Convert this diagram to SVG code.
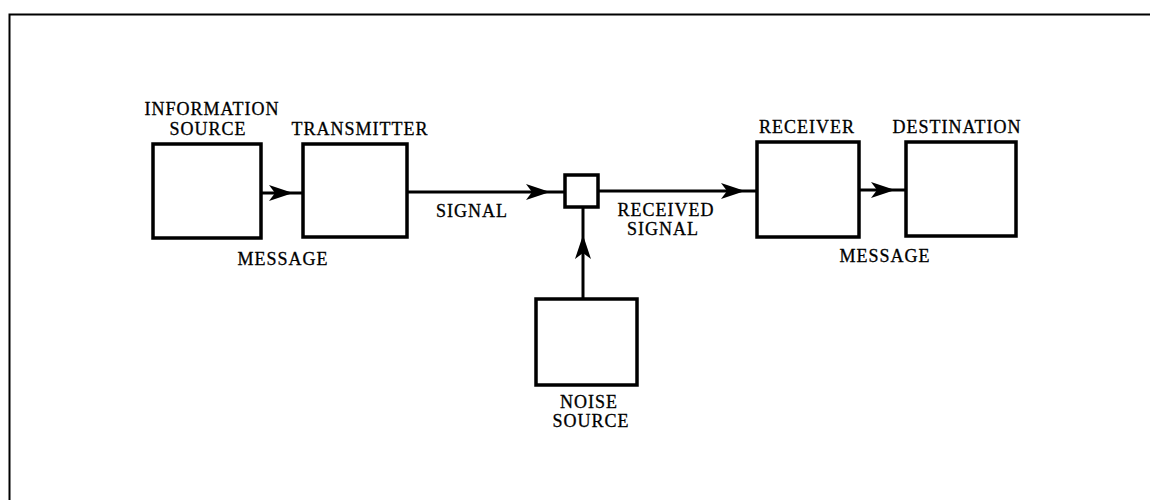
<svg xmlns="http://www.w3.org/2000/svg" width="1150" height="500" viewBox="0 0 1150 500">
<style>
  .box { fill: #fff; stroke: #000; stroke-width: 3.5; }
  .wire { fill: none; stroke: #000; stroke-width: 3; marker-mid: url(#ah); }
  .lbl { font-family: "Liberation Serif", "Times New Roman", serif; font-size: 18px; fill: #000; stroke: #000; stroke-width: 0.3; text-anchor: middle; letter-spacing: 1px; }
  .frame { fill: none; stroke: #000; stroke-width: 2; }
</style>
<defs>
  <marker id="ah" markerUnits="userSpaceOnUse" markerWidth="30" markerHeight="20" refX="0" refY="0" viewBox="-26 -10 30 20" orient="auto" overflow="visible">
    <path d="M0,0 L-24,-8 L-18,0 L-24,8 Z" fill="#000"/>
  </marker>
</defs>
<rect width="1150" height="500" fill="#fff"/>
<path class="frame" d="M9.5,500 L9.5,14.5 L1150,14.5"/>

<g id="connectors">
  <path class="wire" d="M261,193 L293,193 L303,193"/>
  <path class="wire" d="M407,192 L550,192 L565,192"/>
  <path class="wire" d="M598,191 L745,191 L757,191"/>
  <path class="wire" d="M859,190 L895,190 L906,190"/>
  <path class="wire" d="M583,299 L583,235 L583,207"/>
</g>

<g id="information-source">
  <rect class="box" x="153" y="144" width="108" height="94"/>
  <text class="lbl" x="212" y="115">INFORMATION</text>
  <text class="lbl" x="208" y="135">SOURCE</text>
</g>
<g id="transmitter">
  <rect class="box" x="303" y="144" width="104" height="93"/>
  <text class="lbl" x="360" y="135">TRANSMITTER</text>
</g>
<g id="message-label-1">
  <text class="lbl" x="283" y="265">MESSAGE</text>
</g>
<g id="signal-label">
  <text class="lbl" x="472" y="217">SIGNAL</text>
</g>
<g id="mixer">
  <rect class="box" x="565" y="175" width="33" height="32"/>
</g>
<g id="received-signal-label">
  <text class="lbl" x="666" y="216">RECEIVED</text>
  <text class="lbl" x="663" y="235">SIGNAL</text>
</g>
<g id="noise-source">
  <rect class="box" x="536" y="299" width="101" height="86"/>
  <text class="lbl" x="589" y="408">NOISE</text>
  <text class="lbl" x="591" y="427">SOURCE</text>
</g>
<g id="receiver">
  <rect class="box" x="757" y="142" width="102" height="95"/>
  <text class="lbl" x="807" y="133">RECEIVER</text>
</g>
<g id="destination">
  <rect class="box" x="906" y="142" width="110" height="94"/>
  <text class="lbl" x="957" y="133">DESTINATION</text>
</g>
<g id="message-label-2">
  <text class="lbl" x="885" y="262">MESSAGE</text>
</g>
</svg>
